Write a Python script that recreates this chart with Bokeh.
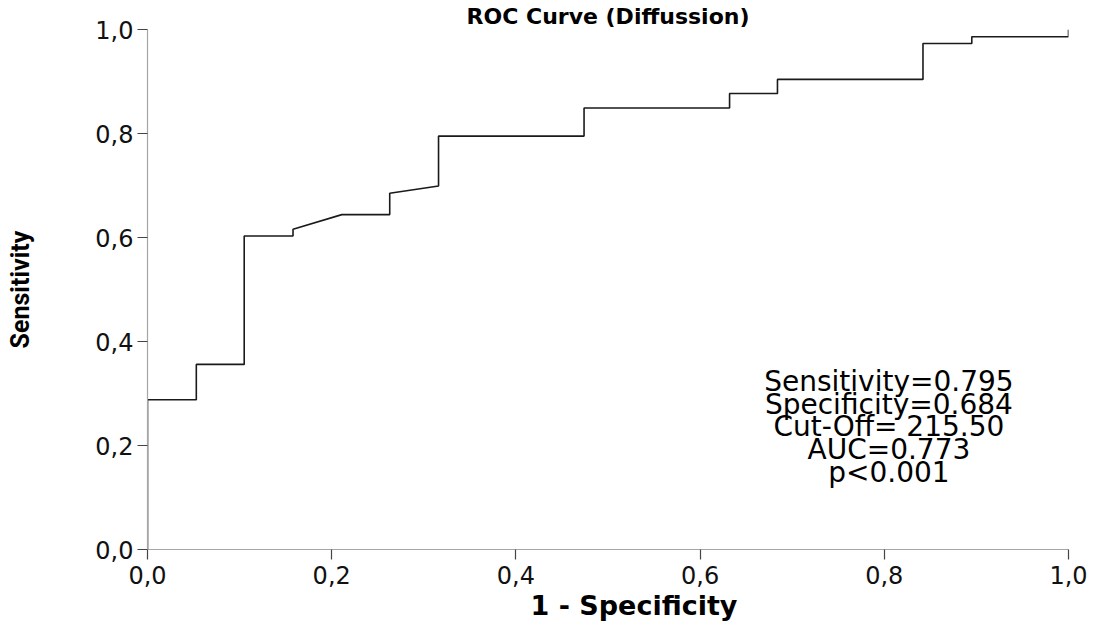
from bokeh.plotting import figure
from bokeh.models import Label, FixedTicker, Title
from bokeh.embed import file_html
from bokeh.resources import INLINE

# ROC curve points (1 - specificity, sensitivity)
fpr = [0.0, 0.0, 0.053, 0.053, 0.105, 0.105, 0.158, 0.158, 0.211, 0.263, 0.263,
       0.316, 0.316, 0.474, 0.474, 0.632, 0.632, 0.684, 0.684, 0.842, 0.842,
       0.895, 0.895, 1.0, 1.0]
tpr = [0.0, 0.288, 0.288, 0.356, 0.356, 0.603, 0.603, 0.616, 0.644, 0.644, 0.685,
       0.699, 0.795, 0.795, 0.849, 0.849, 0.877, 0.877, 0.904, 0.904, 0.973,
       0.973, 0.986, 0.986, 1.0]

tick_values = [0.0, 0.2, 0.4, 0.6, 0.8, 1.0]
tick_labels = ["0,0", "0,2", "0,4", "0,6", "0,8", "1,0"]

title_text = "ROC Curve (Diffussion)"
x_title = "1 - Specificity"
y_title = "Sensitivity"
stats_lines = ["Sensitivity=0.795", "Specificity=0.684", "Cut-Off= 215.50",
               "AUC=0.773", "p<0.001"]

FONT = "'DejaVu Sans', sans-serif"
NARROW = "Roboto, sans-serif"

p = figure(width=1105, height=632, x_range=(0, 1), y_range=(0, 1),
           output_backend="svg", toolbar_location=None,
           min_border_left=147, min_border_right=37,
           min_border_top=29, min_border_bottom=83)
p.outline_line_color = None
p.xgrid.visible = False
p.ygrid.visible = False
p.background_fill_color = "white"
p.border_fill_color = "white"

overrides = dict(zip(tick_values, tick_labels))
for ax in (p.xaxis[0], p.yaxis[0]):
    ax.ticker = FixedTicker(ticks=tick_values)
    ax.major_label_overrides = overrides
    ax.minor_tick_line_color = None
    ax.major_tick_in = 0
    ax.major_tick_out = 10
    ax.axis_line_color = "#a6a6a6"
    ax.axis_line_width = 1.2
    ax.major_tick_line_color = "#444444"
    ax.major_tick_line_width = 1.2
    ax.major_label_text_font = FONT
    ax.major_label_text_font_size = "24px"
    ax.major_label_text_color = "#111111"

p.xaxis[0].major_label_standoff = 6

p.yaxis[0].axis_label = y_title
p.yaxis[0].axis_label_text_font = NARROW
p.yaxis[0].axis_label_text_font_style = "bold"
p.yaxis[0].axis_label_text_color = "#000000"
p.yaxis[0].axis_label_text_font_size = "25px"
p.yaxis[0].major_label_standoff = 4
p.yaxis[0].axis_label_standoff = 57

p.line(fpr, tpr, line_color="#1a1a1a", line_width=1.6)

# chart title above, x-axis title below
p.add_layout(Title(text=title_text, align="center", text_font=FONT,
                   text_font_style="bold", text_font_size="22px",
                   text_color="#000000", standoff=1), "above")
p.add_layout(Title(text=x_title, align="left", offset=383, text_font=FONT,
                   text_font_style="bold", text_font_size="27px",
                   text_color="#000000", standoff=3), "below")

# stats block, centred in the lower right
y0 = 0.323
step = 0.0437
for i, s in enumerate(stats_lines):
    p.add_layout(Label(x=0.805, y=y0 - i * step, text=s, text_align="center",
                       text_baseline="middle", text_font=FONT,
                       text_font_size="28px", text_color="#000000"))

open("out.html", "w").write(file_html(p, INLINE))
